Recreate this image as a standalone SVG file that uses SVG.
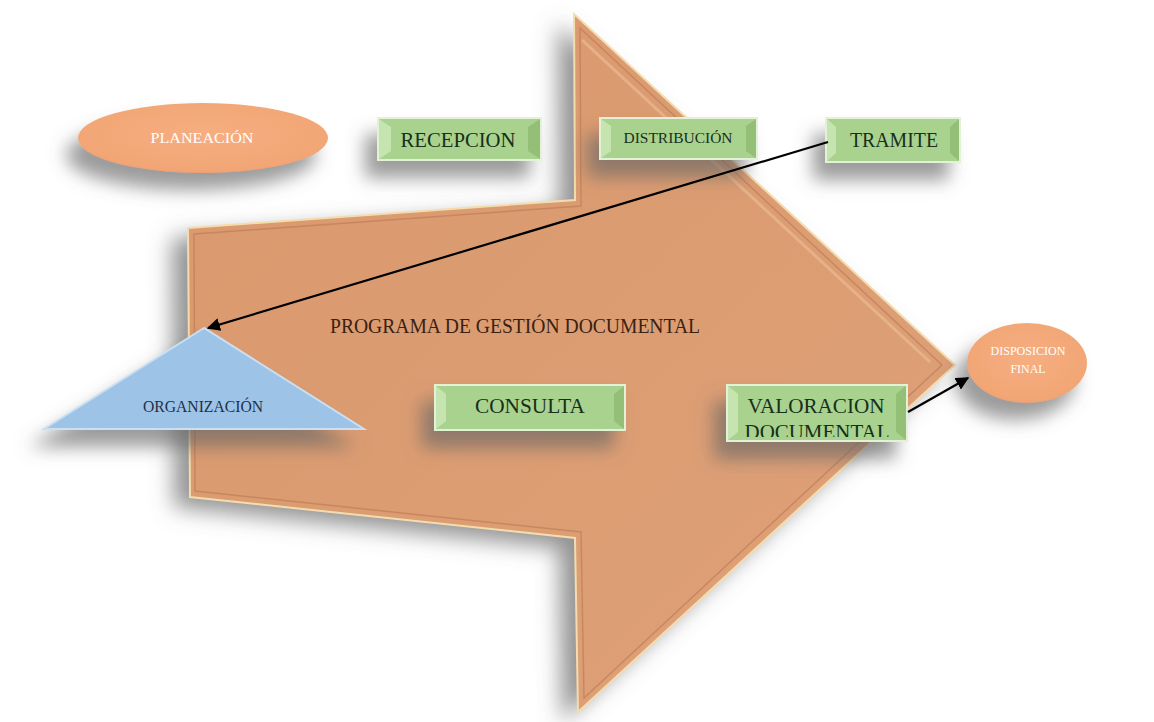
<svg xmlns="http://www.w3.org/2000/svg" width="1154" height="722" viewBox="0 0 1154 722">
<defs>
<filter id="shBig" x="-20%" y="-20%" width="140%" height="140%">
<feGaussianBlur in="SourceAlpha" stdDeviation="11"/>
<feOffset dx="-16" dy="10" result="b"/>
<feFlood flood-color="#6f6f6f" flood-opacity="0.75"/>
<feComposite in2="b" operator="in"/>
<feMerge><feMergeNode/><feMergeNode in="SourceGraphic"/></feMerge>
</filter>
<filter id="shNode" x="-40%" y="-60%" width="180%" height="280%">
<feGaussianBlur in="SourceAlpha" stdDeviation="9"/>
<feOffset dx="-12" dy="17" result="b"/>
<feFlood flood-color="#666" flood-opacity="0.65"/>
<feComposite in2="b" operator="in"/>
<feMerge><feMergeNode/><feMergeNode in="SourceGraphic"/></feMerge>
</filter>
<clipPath id="cVal"><rect x="727" y="385" width="180" height="52"/></clipPath>
<linearGradient id="gArrow" x1="0" y1="0" x2="1" y2="1">
<stop offset="0" stop-color="#DA986C"/>
<stop offset="1" stop-color="#DEA178"/>
</linearGradient>
<radialGradient id="gOval" cx="0.5" cy="0.45" r="0.6">
<stop offset="0" stop-color="#F6AE80"/>
<stop offset="0.85" stop-color="#F2A676"/>
<stop offset="1" stop-color="#E99A68"/>
</radialGradient>
<marker id="ah" viewBox="0 0 10 10" refX="9" refY="5" markerWidth="6" markerHeight="6" orient="auto-start-reverse">
<path d="M0,0 L10,5 L0,10 z" fill="#000"/>
</marker>
<style>
.box{fill:#A9D28F;stroke:#E3F2D6;stroke-width:2}
.bev{fill:#C6E4B0}
.bevd{fill:#93C076}
.gt{font-family:"Liberation Serif",serif;fill:#17301A;text-anchor:middle}
.wt{font-family:"Liberation Serif",serif;fill:#FFFFFF;text-anchor:middle}
.con{stroke:#000;stroke-width:2.2;fill:none}
</style>
</defs>
<rect width="1154" height="722" fill="#FFFFFF"/>

<g id="programa">
<path d="M188,228 L575,200 L574,14 L955,365 L578,712 L575,538 L190,497 Z" fill="url(#gArrow)" filter="url(#shBig)"/>
<path d="M188,228 L575,200 L574,14 L955,365 L578,712 L575,538 L190,497 Z" fill="none" stroke="#F4DCAE" stroke-width="2"/>
<path d="M194,234 L581,206 L580,28 L942,365 L584,698 L581,532 L195,491 Z" fill="none" stroke="#B97A52" stroke-width="1.5" opacity="0.6"/>
<path d="M582,40 L930,362" fill="none" stroke="#E8B68E" stroke-width="3" opacity="0.8"/>
<text x="515" y="333" font-family="Liberation Serif, serif" font-size="21" fill="#3A2212" text-anchor="middle" textLength="370" lengthAdjust="spacingAndGlyphs">PROGRAMA DE GESTIÓN DOCUMENTAL</text>
</g>

<g id="planeacion">
<ellipse cx="203" cy="138" rx="125" ry="35" fill="url(#gOval)" filter="url(#shNode)"/>
<text class="wt" x="202" y="143" font-size="14" textLength="103" lengthAdjust="spacingAndGlyphs">PLANEACIÓN</text>
</g>

<g id="recepcion">
<rect class="box" x="378" y="118" width="163" height="42" filter="url(#shNode)"/>
<polygon class="bev" points="379,119 391,127 391,151 379,159"/>
<polygon class="bevd" points="540,119 528,127 528,151 540,159"/>
<text class="gt" x="458" y="147" font-size="21" textLength="115" lengthAdjust="spacingAndGlyphs">RECEPCION</text>
</g>

<g id="distribucion">
<rect class="box" x="600" y="118" width="157" height="41" filter="url(#shNode)"/>
<polygon class="bev" points="601,119 611,126 611,151 601,158"/>
<polygon class="bevd" points="756,119 746,126 746,151 756,158"/>
<text class="gt" x="678" y="143" font-size="14" textLength="109" lengthAdjust="spacingAndGlyphs">DISTRIBUCIÓN</text>
</g>

<g id="tramite">
<rect class="box" x="826" y="118" width="134" height="44" filter="url(#shNode)"/>
<polygon class="bev" points="827,119 836,127 836,153 827,161"/>
<polygon class="bevd" points="959,119 950,127 950,153 959,161"/>
<text class="gt" x="894" y="147" font-size="21" textLength="88" lengthAdjust="spacingAndGlyphs">TRAMITE</text>
</g>

<g id="organizacion">
<polygon points="204,328 44,429 364,429" fill="#9DC3E6" stroke="#C9DFF3" stroke-width="2" filter="url(#shNode)"/>
<text x="203" y="412" font-family="Liberation Serif, serif" font-size="16" fill="#1F2F4A" text-anchor="middle" textLength="120" lengthAdjust="spacingAndGlyphs">ORGANIZACIÓN</text>
</g>

<g id="consulta">
<rect class="box" x="435" y="385" width="190" height="45" filter="url(#shNode)"/>
<polygon class="bev" points="436,386 446,394 446,421 436,429"/>
<polygon class="bevd" points="624,386 614,394 614,421 624,429"/>
<text class="gt" x="530" y="413" font-size="22" textLength="110" lengthAdjust="spacingAndGlyphs">CONSULTA</text>
</g>

<g id="valoracion">
<rect class="box" x="727" y="385" width="180" height="56" filter="url(#shNode)"/>
<polygon class="bev" points="728,386 738,394 738,432 728,440"/>
<polygon class="bevd" points="906,386 896,394 896,432 906,440"/>
<g clip-path="url(#cVal)">
<text class="gt" x="816" y="413" font-size="22" textLength="137" lengthAdjust="spacingAndGlyphs">VALORACION</text>
<text class="gt" x="817" y="439" font-size="22" textLength="145" lengthAdjust="spacingAndGlyphs">DOCUMENTAL</text>
</g>
</g>

<g id="disposicion">
<ellipse cx="1027" cy="363" rx="60" ry="40" fill="url(#gOval)" filter="url(#shNode)"/>
<text class="wt" x="1028" y="355" font-size="13" textLength="75" lengthAdjust="spacingAndGlyphs">DISPOSICION</text>
<text class="wt" x="1028" y="373" font-size="13" textLength="35" lengthAdjust="spacingAndGlyphs">FINAL</text>
</g>

<g id="connectors">
<line class="con" x1="828" y1="142" x2="208" y2="328" marker-end="url(#ah)"/>
<line class="con" x1="908" y1="412" x2="968" y2="378" marker-end="url(#ah)"/>
</g>
</svg>
